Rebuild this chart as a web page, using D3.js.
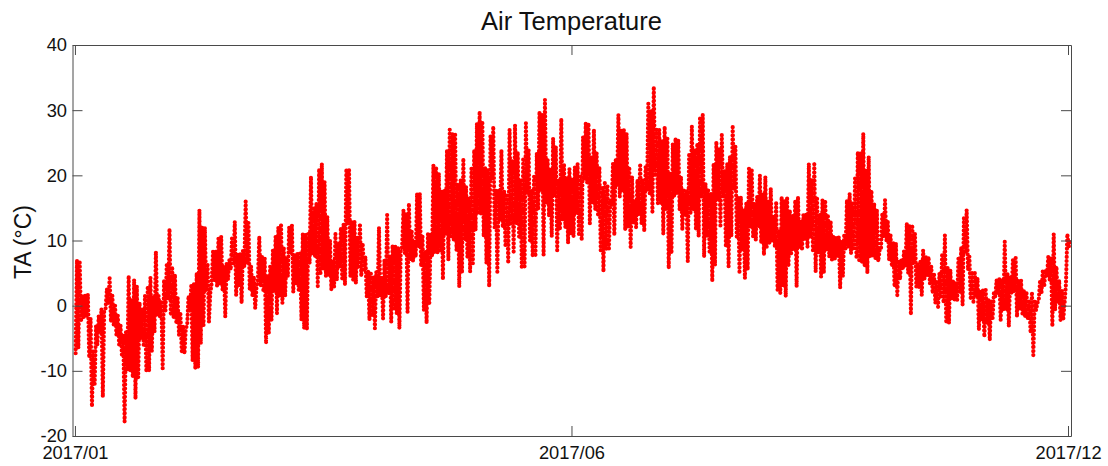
<!DOCTYPE html>
<html>
<head>
<meta charset="utf-8">
<script src="https://cdn.jsdelivr.net/npm/d3@7"></script>
<style>
  html, body { margin: 0; background: #fff; }
  svg { display: block; }
  text { font-family: "Liberation Sans", Arial, sans-serif; fill: #111; }
  .axis path, .axis line { stroke: #4a4a4a; }
  .axis text { font-size: 18.3px; }
</style>
</head>
<body>
<svg id="chart" width="1108" height="466"></svg>
<script>
// daily highest reading, 10 days a row
var dayHigh = [
  7, 6.6, 1.5, 1.6, 1.7, -2, -7, -3, -1.5, -0.5,
  -0.8, 2.6, 4.2, 1.5, 0, -1.5, -3, -4.5, -4, 4.6,
  1, 4, 3, 0.5, -0.5, 1.5, 3, 4.3, 1.5, 8.3,
  1.5, 0.8, 4, 6.5, 11.8, 6, 4.8, 1.2, -1, -3,
  -3.5, 1.5, 3, 3.5, 5, 14.7, 12, 12, 6.5, 1.9,
  8.3, 8.5, 10.3, 10.6, 6, 6.5, 7, 10.6, 12.9, 8,
  8, 8.5, 16, 13, 6, 4.5, 3, 10.6, 7.5, 7.3,
  4.5, 6, 8.5, 10.6, 12, 12.6, 9, 7.5, 12.1, 12.4,
  8, 8, 8, 11, 11, 11, 19.8, 15.2, 15.7, 21,
  21.8, 19, 13.7, 10, 7, 11, 9.6, 12, 12.6, 21,
  20.8, 13, 12.9, 10.6, 12.6, 9.6, 7.5, 5.2, 5.2, 4.5,
  5.2, 12, 4.5, 7, 13.9, 7.5, 9.3, 9.3, 9, 8.5,
  14.7, 14.2, 15.7, 11.6, 10, 17.2, 17.2, 10.6, 8.5, 11,
  11, 21.6, 21.3, 20.3, 17.7, 17.7, 23.9, 27, 26.4, 26.2,
  18.8, 19.3, 22.6, 18.3, 16.7, 21.3, 23.9, 28, 29.8, 28,
  21.3, 20.8, 26.2, 27.5, 17.7, 17.7, 23.9, 17.7, 17.2, 27,
  22.4, 27.7, 23.6, 19.3, 22.4, 28, 23.9, 17.7, 19.8, 23.4,
  29.8, 29.5, 31.6, 22.4, 20.8, 25.7, 24.4, 19.3, 28.7, 21.8,
  19.8, 21, 19.3, 21.3, 21.8, 19.8, 25.9, 28, 28, 22.9,
  27, 23.4, 21.3, 18.3, 18.8, 18.3, 16.2, 21.8, 22.4, 29.3,
  27, 27, 26.4, 21.3, 19.8, 16.2, 19.3, 21.8, 19.3, 21.3,
  31, 30, 33.6, 27, 27, 25.4, 27.5, 25.9, 20.3, 24.9,
  25.7, 25.4, 19.8, 17.7, 17.7, 23.4, 27.5, 23.9, 24.9, 29,
  29.3, 18.8, 17.7, 17.2, 21.8, 25.2, 24.1, 26.2, 20.8, 21.8,
  22.9, 27.7, 24.4, 16.7, 16.7, 14.7, 15.7, 21.3, 21, 15.7,
  16.7, 20, 17.2, 19.8, 16.2, 18, 13.7, 16, 11.6, 16.7,
  16.2, 16.7, 14.7, 14, 16.2, 16.7, 13, 14, 14, 21.8,
  19.3, 22, 16.7, 14, 16.2, 16.2, 13.7, 13, 10.6, 10.6,
  10.6, 10, 11, 16.2, 17.2, 15.7, 19.8, 23.6, 23.6, 26.4,
  20.8, 22.9, 17.7, 15.7, 14.7, 8.5, 14.2, 16.2, 13, 11,
  9.8, 9.6, 7, 7, 8.5, 12.6, 12.4, 12.4, 11, 6.5,
  7, 8.5, 7.5, 7.5, 6, 5, 3.9, 5, 8, 10.8,
  6, 5.5, 3.9, 3.7, 7.5, 9, 13.7, 14.7, 7.5, 5,
  5, 4.2, 2.4, 2.4, 2.4, 0.9, 0.9, 1.9, 3.9, 4.2,
  4, 9.8, 5, 4.4, 7, 7.3, 3.9, 3.9, 2.4, 1.9,
  0.9, 2.1, 0.9, 0.4, 3.9, 5.5, 5.5, 7.5, 7.5, 11,
  6, 3.9, 2.4, 0.4, 11, 9.8
];

// daily lowest reading
var dayLow = [
  -7.3, -6.5, -2.5, -2, -1.8, -8, -15.5, -12, -6, -4,
  -14, -0.5, 0.2, -2.5, -3, -4.5, -6, -7.5, -17.8, -10,
  -10, -11, -14.3, -11, -5, -6, -10.2, -10, -7, -4,
  -1.5, -1.8, -9.6, -1, 1, -1.5, -1.8, -2.5, -4.5, -7,
  -7.4, -3, -1, -8.5, -9.7, -9.5, -5.8, -3, 2.4, -2.5,
  3.4, 3.9, 2.9, 3.2, 2.4, -1.7, 4, 5.5, 6.5, 1.6,
  3, 0.4, 6, 6.5, 2.4, 1.4, -0.4, 4, 3, 2.4,
  -5.8, -4.2, -2.2, 2, -1.2, 1.4, 0.4, 1.4, 4.5, 8,
  2.1, 3.4, 2.4, -2.2, -3.5, -3.7, 6.5, 8, 7.5, 3,
  5, 5.5, 4.5, 4.5, 2.4, 2.9, 3.9, 6, 3.9, 3.2,
  12.6, 4.5, 3.9, 3.4, 6, 4.5, 5.5, 1.4, -2.2, -1.7,
  -3.5, 1.4, 1.4, -2, 1.4, 1.9, -2.5, -0.7, -1.2, -3.5,
  9, 8, -1, 7, 6.8, 7.5, 9, 6, -0.7, -2.7,
  0.4, 7.5, 8, 8, 8.5, 4, 11, 7, 10.6, 10,
  8.5, 2.9, 5, 10, 7.5, 5.2, 6.5, 11.6, 14, 14,
  10.6, 6.5, 2.9, 19.3, 12, 5.2, 13, 12, 9, 6.5,
  12.6, 8.3, 12.6, 10.6, 5.7, 6, 17.2, 10, 7.5, 7.5,
  14.7, 17.7, 7.8, 15.7, 13.7, 10.6, 16.7, 8.5, 11.6, 13,
  12, 9.6, 11, 10.6, 14, 11, 10, 19.3, 18.8, 12.6,
  15.7, 14.7, 14, 8.5, 5.2, 8.5, 8.5, 15.2, 10.8, 18.3,
  16.7, 17.7, 11.6, 12, 9, 12.6, 12, 14, 12.6, 11.4,
  17.7, 17.2, 14.4, 19.8, 15.7, 15.7, 11, 14.7, 5.7, 8,
  16.7, 17.2, 14.7, 11.6, 13.7, 6.8, 14, 14.7, 11.6, 10.6,
  16.7, 7.5, 10.6, 8.3, 3.7, 6.2, 16.2, 12, 16.7, 9,
  6, 10.6, 17.7, 10.6, 5.2, 8.5, 4.2, 5.5, 12, 10.6,
  10, 12, 9.6, 7.8, 9, 9.6, 10, 9, 2.4, 1.9,
  2.9, 1.4, 6, 8, 8.5, 2.9, 9, 8.5, 10, 9,
  10.6, 8.5, 5.2, 8, 4.4, 5, 8.5, 7.5, 7, 7,
  7.5, 2.7, 4.5, 8.5, 9, 8, 8.5, 7.5, 7, 6.5,
  6, 5, 7.5, 7.5, 7, 6.8, 8.5, 10.6, 10, 7,
  6, 2.9, 1.6, 4, 5.5, 6, 5, -1.4, 6.5, 2.9,
  2.7, 1.6, 4, 4.5, 3.4, 1.9, 0.4, -0.2, 1.4, 0.4,
  -2.7, -2.7, 0.9, 0.9, 0.6, 1.9, 0.1, 8, 5.5, 0.9,
  0.6, 1.4, -3.7, -2.2, -4.8, -2.7, -5.3, -2.2, 1.4, 1.9,
  -2.2, -0.7, -0.7, -3.2, 1.9, 2.1, -1.7, -0.7, -1.2, -1.7,
  -2.2, -4.2, -7.6, -0.7, 0.9, 1.9, 2.9, 4.5, 3.9, -3.2,
  -0.7, 0.6, -2.2, -2.2, 3.4, 9
];

var yTicks = [-20, -10, 0, 10, 20, 30, 40];
var xTickDays = [0, 182.5, 365];
var xTickLabels = ["2017/01", "2017/06", "2017/12"];

var svg = d3.select("#chart");
var margin = { top: 45, right: 37, bottom: 30, left: 72.5 },
  width = +svg.attr("width"),
  height = +svg.attr("height");

var x = d3.scaleLinear()
  .domain([-0.9, 366.1])
  .range([margin.left, width - margin.right]);

var y = d3.scaleLinear()
  .domain([-20, 40])
  .range([height - margin.bottom, margin.top]);

// low then high of every day, in time order
var readings = [];
dayLow.forEach(function (low, i) {
  readings.push({ day: i + 0.25, ta: low });
  readings.push({ day: i + 0.75, ta: dayHigh[i] });
});

var trace = d3.line()
  .x(function (d) { return x(d.day); })
  .y(function (d) { return y(d.ta); });

// dotted trace, so the readings show up as separate markers
svg.append("path")
  .datum(readings)
  .attr("d", trace)
  .attr("fill", "none")
  .attr("stroke", "#ff0000")
  .attr("stroke-width", 4.2)
  .attr("stroke-linecap", "round")
  .attr("stroke-dasharray", "0 4.1");

function boxAxis(axis, translate) {
  return svg.append("g")
    .attr("class", "axis")
    .attr("transform", translate)
    .call(axis);
}

var xLabel = function (d, i) { return xTickLabels[i]; };
var yLabel = function (d) { return String(d); };

boxAxis(d3.axisBottom(x).tickValues(xTickDays).tickFormat(xLabel).tickSizeInner(-10).tickSizeOuter(0).tickPadding(10),
  "translate(0," + y(-20) + ")");
boxAxis(d3.axisTop(x).tickValues(xTickDays).tickFormat("").tickSizeInner(-10).tickSizeOuter(0),
  "translate(0," + y(40) + ")");
boxAxis(d3.axisLeft(y).tickValues(yTicks).tickFormat(yLabel).tickSizeInner(-10).tickSizeOuter(0).tickPadding(5.5),
  "translate(" + margin.left + ",0)");
boxAxis(d3.axisRight(y).tickValues(yTicks).tickFormat("").tickSizeInner(-10).tickSizeOuter(0),
  "translate(" + (width - margin.right) + ",0)");

svg.append("text")
  .attr("x", x(182.5))
  .attr("y", 30)
  .attr("text-anchor", "middle")
  .style("font-size", "25.5px")
  .text("Air Temperature");

svg.append("text")
  .attr("transform", "translate(31,242) rotate(-90)")
  .attr("text-anchor", "middle")
  .style("font-size", "23px")
  .text("TA (°C)");
</script>
</body>
</html>
